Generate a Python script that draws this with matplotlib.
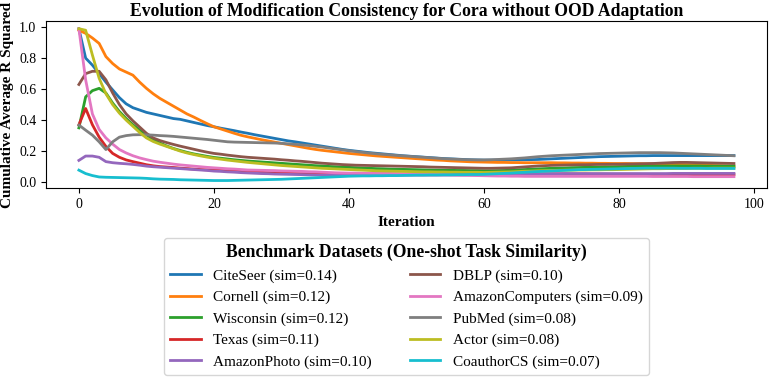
import numpy as np
import matplotlib
matplotlib.use('Agg')
import matplotlib.pyplot as plt

plt.rcParams['font.family'] = ['Liberation Serif', 'DejaVu Serif']

# cumulative average R squared per iteration
citeseer = [
    0.99, 0.80, 0.755, 0.70, 0.645, 0.595, 0.545, 0.505, 0.48, 0.465,
    0.45, 0.44, 0.43, 0.42, 0.41, 0.405, 0.395, 0.385, 0.375, 0.365,
    0.357, 0.348, 0.34, 0.332, 0.323, 0.315, 0.306, 0.298, 0.29, 0.282,
    0.274, 0.266, 0.26, 0.253, 0.246, 0.239, 0.232, 0.225, 0.218, 0.211,
    0.205, 0.2, 0.195, 0.19, 0.186, 0.182, 0.178, 0.174, 0.17, 0.167,
    0.164, 0.161, 0.158, 0.155, 0.152, 0.15, 0.148, 0.146, 0.144, 0.143,
    0.142, 0.142, 0.142, 0.143, 0.143, 0.144, 0.144, 0.145, 0.146, 0.148,
    0.15, 0.152, 0.154, 0.156, 0.158, 0.16, 0.162, 0.164, 0.165, 0.166,
    0.167, 0.168, 0.169, 0.17, 0.17, 0.171, 0.171, 0.171, 0.171, 0.171,
    0.171, 0.171, 0.171, 0.171, 0.171, 0.171, 0.171, 0.171]
cornell = [
    0.98, 0.96, 0.93, 0.895, 0.81, 0.765, 0.73, 0.71, 0.69, 0.645,
    0.605, 0.57, 0.54, 0.515, 0.49, 0.465, 0.44, 0.42, 0.398, 0.377,
    0.357, 0.343, 0.329, 0.315, 0.302, 0.292, 0.283, 0.274, 0.266, 0.258,
    0.25, 0.242, 0.234, 0.226, 0.218, 0.211, 0.205, 0.2, 0.195, 0.19,
    0.185, 0.181, 0.177, 0.173, 0.169, 0.166, 0.163, 0.16, 0.157, 0.154,
    0.151, 0.148, 0.145, 0.142, 0.14, 0.137, 0.135, 0.133, 0.131, 0.13,
    0.129, 0.128, 0.127, 0.127, 0.126, 0.126, 0.125, 0.125, 0.125, 0.125,
    0.125, 0.124, 0.124, 0.123, 0.123, 0.122, 0.122, 0.121, 0.121, 0.12,
    0.12, 0.12, 0.119, 0.119, 0.118, 0.118, 0.117, 0.116, 0.115, 0.114,
    0.113, 0.112, 0.11, 0.109, 0.107, 0.106, 0.104, 0.103]
wisconsin = [
    0.35, 0.55, 0.59, 0.605, 0.575, 0.51, 0.455, 0.41, 0.37, 0.335,
    0.305, 0.275, 0.252, 0.233, 0.217, 0.204, 0.192, 0.182, 0.174, 0.166,
    0.159, 0.154, 0.149, 0.144, 0.14, 0.136, 0.133, 0.13, 0.127, 0.124,
    0.121, 0.118, 0.115, 0.112, 0.109, 0.106, 0.104, 0.101, 0.099, 0.097,
    0.095, 0.093, 0.091, 0.089, 0.087, 0.086, 0.084, 0.083, 0.082, 0.081,
    0.08, 0.079, 0.078, 0.077, 0.076, 0.076, 0.075, 0.075, 0.074, 0.074,
    0.073, 0.073, 0.074, 0.075, 0.077, 0.079, 0.081, 0.083, 0.085, 0.087,
    0.089, 0.09, 0.091, 0.093, 0.094, 0.095, 0.096, 0.097, 0.098, 0.099,
    0.1, 0.101, 0.102, 0.103, 0.104, 0.104, 0.104, 0.104, 0.104, 0.104,
    0.104, 0.104, 0.104, 0.103, 0.103, 0.103, 0.103, 0.103]
texas = [
    0.37, 0.475, 0.37, 0.29, 0.23, 0.185, 0.16, 0.143, 0.132, 0.122,
    0.112, 0.105, 0.1, 0.097, 0.094, 0.09, 0.087, 0.084, 0.081, 0.079,
    0.077, 0.075, 0.073, 0.071, 0.069, 0.067, 0.065, 0.063, 0.061, 0.059,
    0.057, 0.056, 0.055, 0.054, 0.054, 0.053, 0.052, 0.052, 0.051, 0.051,
    0.05, 0.05, 0.05, 0.05, 0.05, 0.05, 0.05, 0.05, 0.05, 0.05,
    0.05, 0.05, 0.05, 0.05, 0.05, 0.05, 0.05, 0.05, 0.05, 0.05,
    0.05, 0.05, 0.051, 0.051, 0.051, 0.052, 0.052, 0.052, 0.053, 0.053,
    0.053, 0.053, 0.053, 0.052, 0.052, 0.052, 0.051, 0.051, 0.051, 0.05,
    0.05, 0.05, 0.05, 0.05, 0.049, 0.049, 0.049, 0.049, 0.049, 0.048,
    0.048, 0.048, 0.048, 0.048, 0.048, 0.048, 0.048, 0.048]
amazon_photo = [
    0.14, 0.168, 0.168, 0.16, 0.132, 0.125, 0.121, 0.118, 0.114, 0.109,
    0.103, 0.099, 0.096, 0.093, 0.09, 0.087, 0.084, 0.081, 0.078, 0.075,
    0.071, 0.069, 0.066, 0.064, 0.061, 0.059, 0.057, 0.055, 0.054, 0.052,
    0.051, 0.05, 0.049, 0.048, 0.047, 0.046, 0.045, 0.045, 0.045, 0.045,
    0.045, 0.045, 0.045, 0.045, 0.045, 0.045, 0.045, 0.045, 0.045, 0.045,
    0.045, 0.045, 0.045, 0.045, 0.045, 0.045, 0.045, 0.045, 0.045, 0.045,
    0.045, 0.046, 0.046, 0.047, 0.048, 0.049, 0.05, 0.051, 0.052, 0.053,
    0.054, 0.054, 0.055, 0.055, 0.055, 0.055, 0.055, 0.055, 0.055, 0.055,
    0.055, 0.055, 0.055, 0.055, 0.055, 0.055, 0.055, 0.055, 0.056, 0.056,
    0.056, 0.056, 0.056, 0.056, 0.056, 0.056, 0.056, 0.056]
dblp = [
    0.63, 0.70, 0.715, 0.715, 0.66, 0.575, 0.5, 0.44, 0.395, 0.355,
    0.315, 0.285, 0.268, 0.255, 0.243, 0.232, 0.222, 0.212, 0.202, 0.193,
    0.185, 0.18, 0.174, 0.169, 0.164, 0.16, 0.157, 0.154, 0.151, 0.148,
    0.144, 0.141, 0.137, 0.134, 0.13, 0.126, 0.122, 0.119, 0.116, 0.113,
    0.111, 0.109, 0.108, 0.107, 0.106, 0.105, 0.104, 0.103, 0.102, 0.101,
    0.1, 0.099, 0.097, 0.096, 0.095, 0.094, 0.093, 0.092, 0.091, 0.09,
    0.089, 0.089, 0.09, 0.091, 0.092, 0.095, 0.098, 0.101, 0.104, 0.106,
    0.108, 0.109, 0.11, 0.111, 0.112, 0.112, 0.113, 0.114, 0.114, 0.115,
    0.115, 0.116, 0.117, 0.118, 0.119, 0.12, 0.122, 0.124, 0.126, 0.127,
    0.127, 0.126, 0.125, 0.124, 0.123, 0.122, 0.121, 0.12]
amazon_computers = [
    0.99, 0.66, 0.44, 0.34, 0.285, 0.245, 0.21, 0.188, 0.17, 0.156,
    0.145, 0.135, 0.128, 0.122, 0.116, 0.111, 0.107, 0.103, 0.099, 0.095,
    0.092, 0.089, 0.086, 0.084, 0.081, 0.078, 0.077, 0.076, 0.075, 0.074,
    0.072, 0.071, 0.07, 0.069, 0.067, 0.066, 0.064, 0.062, 0.06, 0.059,
    0.058, 0.058, 0.057, 0.057, 0.056, 0.056, 0.056, 0.055, 0.054, 0.053,
    0.052, 0.051, 0.051, 0.05, 0.049, 0.048, 0.046, 0.045, 0.044, 0.042,
    0.041, 0.04, 0.039, 0.039, 0.038, 0.038, 0.037, 0.037, 0.037, 0.037,
    0.037, 0.037, 0.037, 0.037, 0.037, 0.037, 0.037, 0.037, 0.037, 0.037,
    0.037, 0.037, 0.037, 0.037, 0.037, 0.036, 0.036, 0.036, 0.036, 0.036,
    0.036, 0.035, 0.035, 0.035, 0.035, 0.035, 0.035, 0.035]
pubmed = [
    0.368, 0.335, 0.303, 0.26, 0.21, 0.26, 0.29, 0.3, 0.305, 0.306,
    0.305, 0.303, 0.3, 0.298, 0.295, 0.291, 0.287, 0.283, 0.279, 0.275,
    0.27, 0.265, 0.26, 0.258, 0.257, 0.256, 0.255, 0.254, 0.253, 0.252,
    0.25, 0.247, 0.244, 0.24, 0.236, 0.231, 0.226, 0.22, 0.214, 0.208,
    0.202, 0.197, 0.192, 0.187, 0.183, 0.179, 0.176, 0.172, 0.169, 0.166,
    0.163, 0.16, 0.157, 0.154, 0.151, 0.149, 0.147, 0.145, 0.144, 0.143,
    0.143, 0.144, 0.146, 0.148, 0.15, 0.153, 0.156, 0.16, 0.164, 0.167,
    0.17, 0.172, 0.174, 0.176, 0.178, 0.18, 0.182, 0.184, 0.185, 0.186,
    0.187, 0.188, 0.189, 0.19, 0.19, 0.19, 0.19, 0.189, 0.188, 0.186,
    0.184, 0.182, 0.18, 0.178, 0.176, 0.174, 0.172, 0.17]
actor = [
    0.99, 0.98, 0.82, 0.67, 0.57, 0.5, 0.445, 0.4, 0.36, 0.32,
    0.285, 0.262, 0.245, 0.23, 0.215, 0.2, 0.188, 0.178, 0.169, 0.161,
    0.154, 0.148, 0.142, 0.137, 0.132, 0.127, 0.123, 0.119, 0.115, 0.111,
    0.107, 0.104, 0.101, 0.098, 0.095, 0.092, 0.089, 0.087, 0.085, 0.083,
    0.081, 0.079, 0.077, 0.075, 0.073, 0.072, 0.071, 0.07, 0.069, 0.068,
    0.067, 0.066, 0.066, 0.065, 0.065, 0.064, 0.064, 0.063, 0.063, 0.063,
    0.062, 0.063, 0.064, 0.065, 0.066, 0.068, 0.07, 0.071, 0.073, 0.074,
    0.075, 0.076, 0.077, 0.077, 0.078, 0.078, 0.079, 0.079, 0.08, 0.08,
    0.081, 0.082, 0.083, 0.084, 0.085, 0.086, 0.086, 0.087, 0.087, 0.088,
    0.088, 0.089, 0.089, 0.089, 0.09, 0.09, 0.09, 0.09]
coauthor_cs = [
    0.077, 0.055, 0.042, 0.033, 0.031, 0.03, 0.029, 0.028, 0.027, 0.026,
    0.024, 0.021, 0.019, 0.018, 0.017, 0.015, 0.014, 0.013, 0.012, 0.011,
    0.01, 0.01, 0.01, 0.011, 0.012, 0.013, 0.014, 0.015, 0.016, 0.017,
    0.018, 0.02, 0.022, 0.024, 0.026, 0.028, 0.03, 0.032, 0.034, 0.036,
    0.038, 0.039, 0.04, 0.04, 0.041, 0.041, 0.042, 0.042, 0.043, 0.044,
    0.045, 0.045, 0.046, 0.046, 0.047, 0.047, 0.048, 0.048, 0.049, 0.049,
    0.05, 0.052, 0.054, 0.056, 0.058, 0.061, 0.063, 0.066, 0.068, 0.07,
    0.072, 0.074, 0.076, 0.078, 0.08, 0.081, 0.082, 0.083, 0.084, 0.085,
    0.086, 0.087, 0.088, 0.089, 0.09, 0.09, 0.09, 0.09, 0.09, 0.089,
    0.089, 0.089, 0.089, 0.088, 0.088, 0.088, 0.088, 0.088]

dataset_names = ['CiteSeer', 'Cornell', 'Wisconsin', 'Texas', 'AmazonPhoto',
                 'DBLP', 'AmazonComputers', 'PubMed', 'Actor', 'CoauthorCS']
similarities = [0.14, 0.12, 0.12, 0.11, 0.10, 0.10, 0.09, 0.08, 0.08, 0.07]
all_series = [citeseer, cornell, wisconsin, texas, amazon_photo,
              dblp, amazon_computers, pubmed, actor, coauthor_cs]

fig = plt.figure(figsize=(7.69, 3.77), dpi=100)
ax = fig.add_axes([0.060, 0.501, 0.937, 0.443])

for name, sim, values in zip(dataset_names, similarities, all_series):
    ax.plot(np.arange(len(values)), values, linewidth=2,
            label=f'{name} (sim={sim:.2f})')

ax.set_title('Evolution of Modification Consistency for Cora without OOD Adaptation',
             fontsize=12.7, fontweight='bold', pad=4)
ax.set_xlabel('Iteration', fontsize=11, fontweight='bold')
ax.set_ylabel('Cumulative Average R Squared', fontsize=11, fontweight='bold')
ax.tick_params(labelsize=10)

ax.legend(loc='upper center', bbox_to_anchor=(0.5, -0.252), ncol=2,
          fontsize=11, title='Benchmark Datasets (One-shot Task Similarity)',
          title_fontproperties={'weight': 'bold', 'size': 12.7},
          columnspacing=2.5, labelspacing=0.5)

fig.savefig('out.png', dpi=100)
